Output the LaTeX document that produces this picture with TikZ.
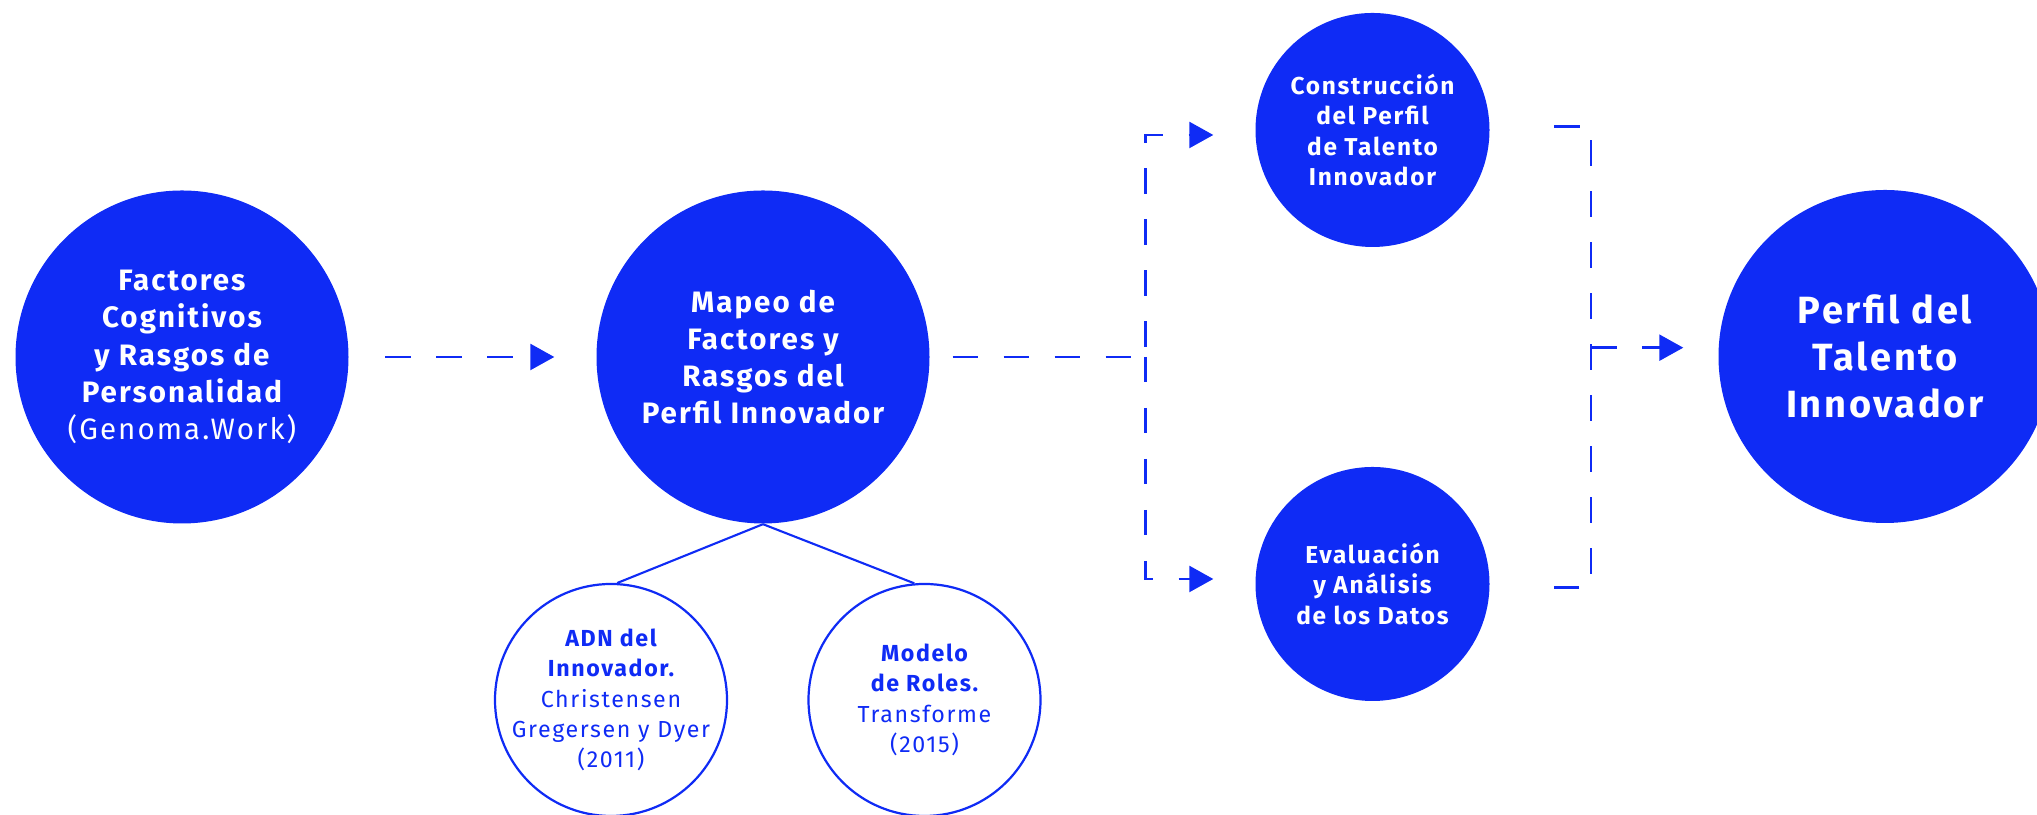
\documentclass[tikz,border=0pt]{standalone}
\usepackage{fontspec}
\setmainfont{Fira Sans}[LetterSpace=7]
\usetikzlibrary{arrows.meta}
\definecolor{azul}{RGB}{15,43,245}
\tikzset{>={Triangle[length=0.24cm,width=0.26cm]},
  grande/.style={circle,fill=azul,text=white,inner sep=0pt,minimum size=3.33cm,align=center,font=\bfseries\fontsize{8.4}{10.6}\selectfont},
  medio/.style={circle,fill=azul,text=white,inner sep=0pt,minimum size=2.34cm,align=center,font=\bfseries\fontsize{6.95}{8.65}\selectfont},
  anillo/.style={circle,draw=azul,line width=0.63pt,text=azul,inner sep=-0.1cm,minimum size=2.32cm,align=center,font=\fontsize{6.6}{8.65}\selectfont},
  trazo/.style={azul,line width=0.7pt,dash pattern=on 0.255cm off 0.255cm},
  rama/.style={azul,line width=0.6pt}}

\begin{document}
\begin{tikzpicture}
    \useasboundingbox (0,0) rectangle (20.37,8.15);
    \node[grande] (F) at (1.82,4.58) {Factores\\Cognitivos\\y Rasgos de\\Personalidad\\\mdseries(Genoma.Work)};
    \node[grande] (M) at (7.63,4.58) {Mapeo de\\Factores y\\Rasgos del\\Perfil Innovador};
    \node[anillo] (A) at (6.11,1.15) {\bfseries ADN del\\\bfseries Innovador.\\Christensen\\Gregersen y Dyer\\(2011)};
    \node[anillo] (R) at (9.245,1.15) {\bfseries Modelo\\\bfseries de Roles.\\Transforme\\(2015)};
    \node[medio] (C) at (13.725,6.85) {Construcción\\del Perfil\\de Talento\\Innovador};
    \node[medio] (E) at (13.725,2.31) {Evaluación\\y Análisis\\de los Datos};
    \node[grande,font=\bfseries\fontsize{10.8}{13.4}\selectfont] (P) at (18.85,4.585) {Perfil del\\Talento\\Innovador};
    \coordinate (J) at (11.456,4.58);
    \coordinate (B1) at (15.54,6.886);
    \coordinate (B2) at (15.54,2.275);
    \coordinate (B3) at (15.91,4.673);
    \draw[trazo,->,shorten <=0.36cm,shorten >=0.415cm] (F) -- (M);
    \draw[rama] (M.south) -- (A.87);
    \draw[rama] (M.south) -- (R.95);
    \draw[trazo,shorten <=0.225cm] (M) -- (J);
    \draw[trazo,->,dash phase=0.41cm,shorten >=0.415cm] (J) |- ([yshift=-0.05cm]C.west);
    \draw[trazo,->,shorten >=0.415cm] (J) |- ([yshift=0.05cm]E.west);
    \draw[trazo] (B1) -- ++(0.37,0) |- (B2);
    \draw[trazo,->,shorten >=0.345cm] (B3) -- (B3 -| P.west);
\end{tikzpicture}
\end{document}
